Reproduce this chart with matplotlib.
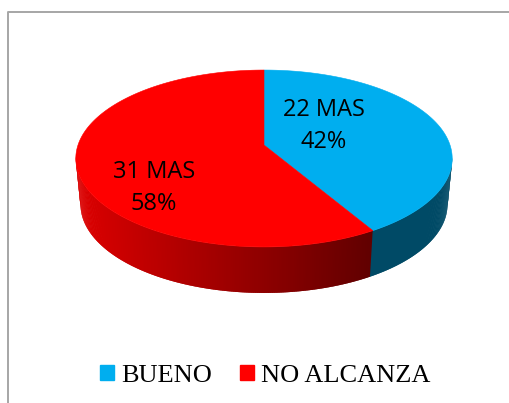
import numpy as np
import matplotlib
matplotlib.use('Agg')
import matplotlib.pyplot as plt
from matplotlib.patches import Patch

labels = ['BUENO', 'NO ALCANZA']
values = [22, 31]
colors = ['#00AEEF', '#FF0000']
wall_blue = '#004A66'

# ring geometry in pixels, top face is a slightly foreshortened disc
cx, cy = 264, 145
rx, ry = 186, 86.4
persp = 0.1525
depth = 46
shrink = 0.975


def top_ring(deg):
    a = np.radians(deg)
    u, v = np.cos(a), np.sin(a)
    w = 1 + persp * v
    return cx + rx * u / w, cy - ry * v / w


def low_ring(deg):
    x, y = top_ring(deg)
    return cx + (x - cx) * shrink, y + depth


def mix(t):
    # red wall goes dark towards the right
    left = np.array([0.86, 0.0, 0.0])
    right = np.array([0.38, 0.0, 0.0])
    return tuple(left + (right - left) * t)


fig = plt.figure(figsize=(5.10, 4.03), dpi=100)
ax = fig.add_axes([0, 0, 1, 1])
ax.set_xlim(0, 510)
ax.set_ylim(403, 0)
ax.axis('off')

# chart frame
ax.plot([8, 8, 510], [403, 12, 12], color='#A6A6A6', lw=1.4)

shares = np.array(values) / sum(values) * 360
split = 90 - shares[0]
split_x = top_ring(split)[0]

# side wall, only the front half shows
side = np.arange(-8.0, -172.0, -0.5)
for a in side:
    b = a - 1.0
    xs = [top_ring(a)[0], top_ring(b)[0], low_ring(b)[0], low_ring(a)[0]]
    ys = [top_ring(a)[1], top_ring(b)[1], low_ring(b)[1], low_ring(a)[1]]
    if a > split:
        c = wall_blue
    else:
        c = mix(1 - (split_x - xs[0]) / (split_x - 79))
    ax.fill(xs, ys, color=c, lw=0)

# top face
start = 90
for share, col in zip(shares, colors):
    ang = np.linspace(start, start - share, 200)
    x, y = top_ring(ang)
    ax.fill(np.r_[cx, x], np.r_[cy, y], color=col, lw=0.4)
    start -= share

total = sum(values)
ax.text(324, 126, f'{values[0]} MAS\n{values[0] / total * 100:.0f}%', ha='center', va='center',
        fontsize=17, family='Open Sans', color='black', linespacing=1.46)
ax.text(154, 188, f'{values[1]} MAS\n{values[1] / total * 100:.0f}%', ha='center', va='center',
        fontsize=17, family='Open Sans', color='black', linespacing=1.46)

handles = [Patch(color=c) for c in colors]
ax.legend(handles, labels, loc='center', bbox_to_anchor=(265.5, 376), bbox_transform=ax.transData,
          ncol=2, frameon=False, handlelength=0.53, handleheight=0.53, handletextpad=0.27,
          columnspacing=1.06, prop={'family': 'Liberation Serif', 'size': 19})

fig.savefig('out.png', dpi=100)
